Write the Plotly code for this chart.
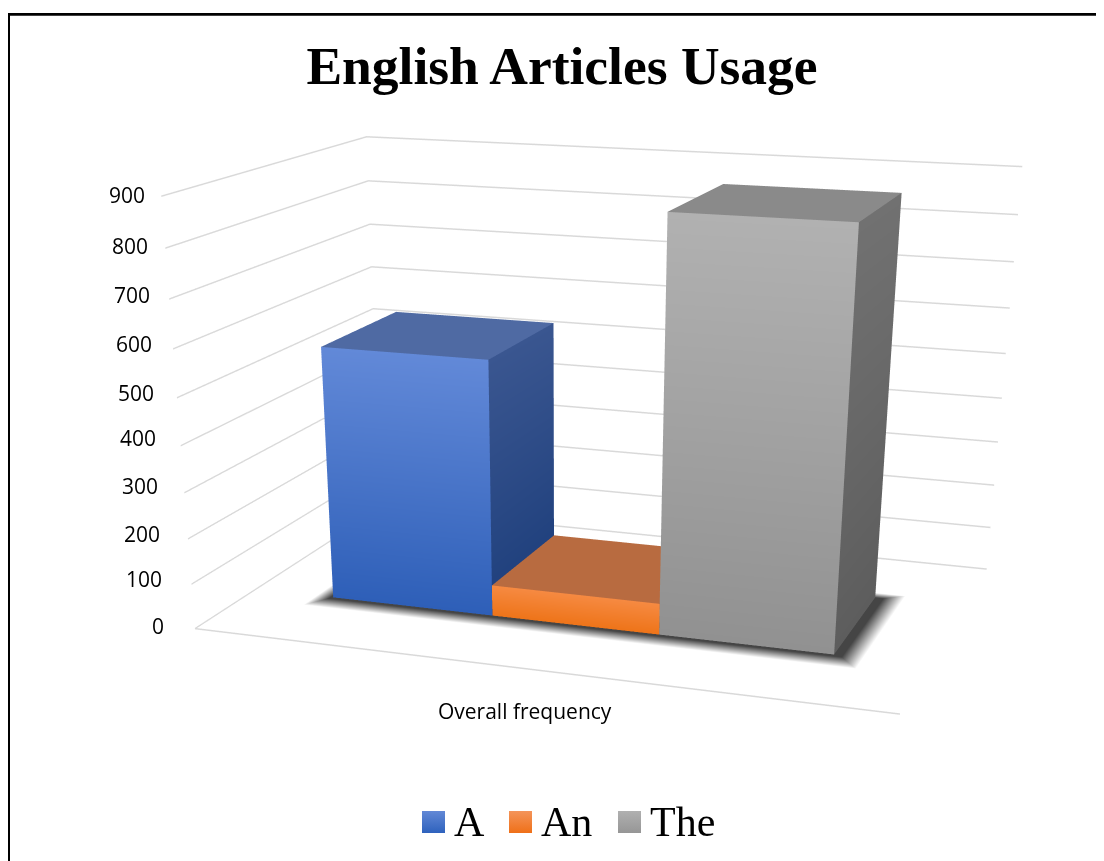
import plotly.graph_objects as go

# ---- chart data -------------------------------------------------------
title_text = "English Articles Usage"
categories = ["Overall frequency"]
series_names = ["A", "An", "The"]
series_values = [559, 69, 876]
tick_values = [0, 100, 200, 300, 400, 500, 600, 700, 800, 900]

# ---- styles -----------------------------------------------------------
front_colors = [("#6289d8", "#2e5fb8"), ("#f68a42", "#ee7419"), ("#b1b1b1", "#919191")]
side_colors = [("#3a5690", "#1e3f7c"), ("#8a4f2c", "#8a4f2c"), ("#717171", "#5d5d5d")]
top_colors = ["#4f6aa3", "#b86b40", "#8a8a8a"]
swatch_colors = [("#6288d6", "#2e62bd"), ("#f4945a", "#ef7018"), ("#b0b0b0", "#969696")]
grid_color = "#d9d9d9"

# ---- layout geometry (bar group inside the unit floor of the scene) ---
BAR_START, BAR_WIDTH = 0.124, 0.2487
DEPTH_FRONT, DEPTH_BACK = 0.2968, 0.7019
PAGE_OFFSET = 8                     # default body margin of the page
FIG_W, FIG_H = 1112, 1823           # large viewport = the narrow 3-D lens of the original
SWATCH_X = [422, 509, 618]
LABEL_X = [452, 539, 648]
SWATCH_Y = (811, 833)
LEGEND_Y = 822
TICK_NUDGE_Y = [3, 5, 5, 7, 8, 5, 5, 4, 2, 1]

fig = go.Figure()
LIT = dict(ambient=1, diffuse=0, specular=0, fresnel=0, roughness=1)
zmax = max(tick_values)


def bar_mesh(k, value):
    a = BAR_START + k * BAR_WIDTH
    b = a + BAR_WIDTH
    y0, y1 = DEPTH_FRONT, DEPTH_BACK
    X = [a, b, b, a, b, b, b, b, a, b, b, a]
    Y = [y0, y0, y0, y0, y0, y1, y1, y0, y0, y0, y1, y1]
    Z = [0, 0, value, value, 0, 0, value, value, value, value, value, value]
    ft, fb = front_colors[k]
    st, sb = side_colors[k]
    tp = top_colors[k]
    colors = [fb, fb, ft, ft, sb, sb, st, st, tp, tp, tp, tp]
    return go.Mesh3d(x=X, y=Y, z=Z, i=[0, 0, 4, 4, 8, 8], j=[1, 2, 5, 6, 9, 10], k=[2, 3, 6, 7, 10, 11],
                     vertexcolor=colors, lighting=LIT, hoverinfo="skip", name=series_names[k], showlegend=False)


# soft shadow on the floor under the group of bars
def shadow_mesh():
    a = BAR_START
    b = BAR_START + BAR_WIDTH * len(series_values)
    y0, y1 = DEPTH_FRONT, DEPTH_BACK
    inner = [(a - 0.004, y0 - 0.01), (b + 0.012, y0 - 0.01), (b + 0.012, y1), (a - 0.004, y1)]
    outer = [(a - 0.026, y0 - 0.07), (b + 0.04, y0 - 0.07), (b + 0.04, y1 + 0.035), (a - 0.026, y1 + 0.035)]
    X = [p[0] for p in inner + outer]
    Y = [p[1] for p in inner + outer]
    I, J, K = [0, 0], [1, 2], [2, 3]
    for n in range(4):
        m = (n + 1) % 4
        I += [n, n]
        J += [m, m + 4]
        K += [m + 4, n + 4]
    colors = ["#454545"] * 4 + ["#ffffff"] * 4
    return go.Mesh3d(x=X, y=Y, z=[0] * 8, i=I, j=J, k=K, vertexcolor=colors, lighting=LIT, hoverinfo="skip", showlegend=False)


fig.add_trace(shadow_mesh())
for k, v in enumerate(series_values):
    fig.add_trace(bar_mesh(k, v))

# front edge of the floor
fig.add_trace(go.Scatter3d(x=[0, 1], y=[0, 0], z=[0, 0], mode="lines", line=dict(color=grid_color, width=3),
                           hoverinfo="skip", showlegend=False))

# legend swatches with a vertical gradient (drawn on a helper pixel axis)
for k, name in enumerate(series_names):
    x0 = SWATCH_X[k]
    x1 = x0 + 23
    y0, y1 = SWATCH_Y
    top, bottom = swatch_colors[k]
    fig.add_trace(go.Scatter(x=[x0, x1, x1, x0, x0], y=[y0, y0, y1, y1, y0], mode="none", fill="toself", name=name,
                             fillgradient=dict(type="vertical", colorscale=[[0, bottom], [1, top]]),
                             hoverinfo="skip", showlegend=False))

tick_notes = [dict(x=0, y=0, z=t, text=str(t), showarrow=False, xanchor="right", yanchor="middle",
                   xshift=-29 + 15 * t / zmax, yshift=TICK_NUDGE_Y[n], font=dict(family="Open Sans", size=21, color="#000000"))
              for n, t in enumerate(tick_values)]
cat_note = dict(x=0.5, y=0, z=0, text=categories[0], showarrow=False, xanchor="center", yanchor="middle",
                xshift=-5, yshift=-42, font=dict(family="Open Sans", size=21, color="#000000"))

legend_notes = [dict(x=LABEL_X[k], y=LEGEND_Y, xref="x", yref="y", text=n, showarrow=False, xanchor="left", yanchor="middle",
                     font=dict(family="Liberation Serif", size=42, color="#000000")) for k, n in enumerate(series_names)]

fig.update_layout(
    width=FIG_W, height=FIG_H, margin=dict(l=0, r=0, t=0, b=0), paper_bgcolor="white", plot_bgcolor="rgba(0,0,0,0)",
    hovermode=False, showlegend=False,
    title=dict(text=title_text, x=(562 - PAGE_OFFSET) / FIG_W, xanchor="center", y=1 - (65 - PAGE_OFFSET) / FIG_H, yanchor="middle",
               font=dict(family="Liberation Serif", size=53.5, color="#000000", weight="bold")),
    xaxis=dict(visible=False, range=[PAGE_OFFSET, PAGE_OFFSET + FIG_W], domain=[0, 1]),
    yaxis=dict(visible=False, range=[PAGE_OFFSET + FIG_H, PAGE_OFFSET], domain=[0, 1]),
    annotations=legend_notes,
    shapes=[dict(type="path", xref="x", yref="y", path="M 8.7 1800 L 8.7 14.4 L 1120 14.4",
                 line=dict(color="#000000", width=2.6))],
    scene=dict(
        domain=dict(x=[0, 1], y=[0, 1]), aspectmode="manual", aspectratio=dict(x=1, y=0.6463, z=0.5819),
        bgcolor="rgba(0,0,0,0)", dragmode=False,
        camera=dict(eye=dict(x=0.9676, y=-2.9295, z=0.7139), center=dict(x=0.1670, y=-0.6586, z=-0.4795),
                    up=dict(x=0, y=0, z=1), projection=dict(type="perspective")),
        xaxis=dict(range=[0, 1], visible=False), yaxis=dict(range=[0, 1], visible=False),
        zaxis=dict(range=[0, zmax], tickvals=tick_values, showgrid=True, gridcolor=grid_color, gridwidth=3,
                   showticklabels=False, title="", showbackground=False, showline=False, zeroline=False, showspikes=False),
        annotations=tick_notes + [cat_note],
    ),
)
fig.write_html("out.html", config=dict(displayModeBar=False))
